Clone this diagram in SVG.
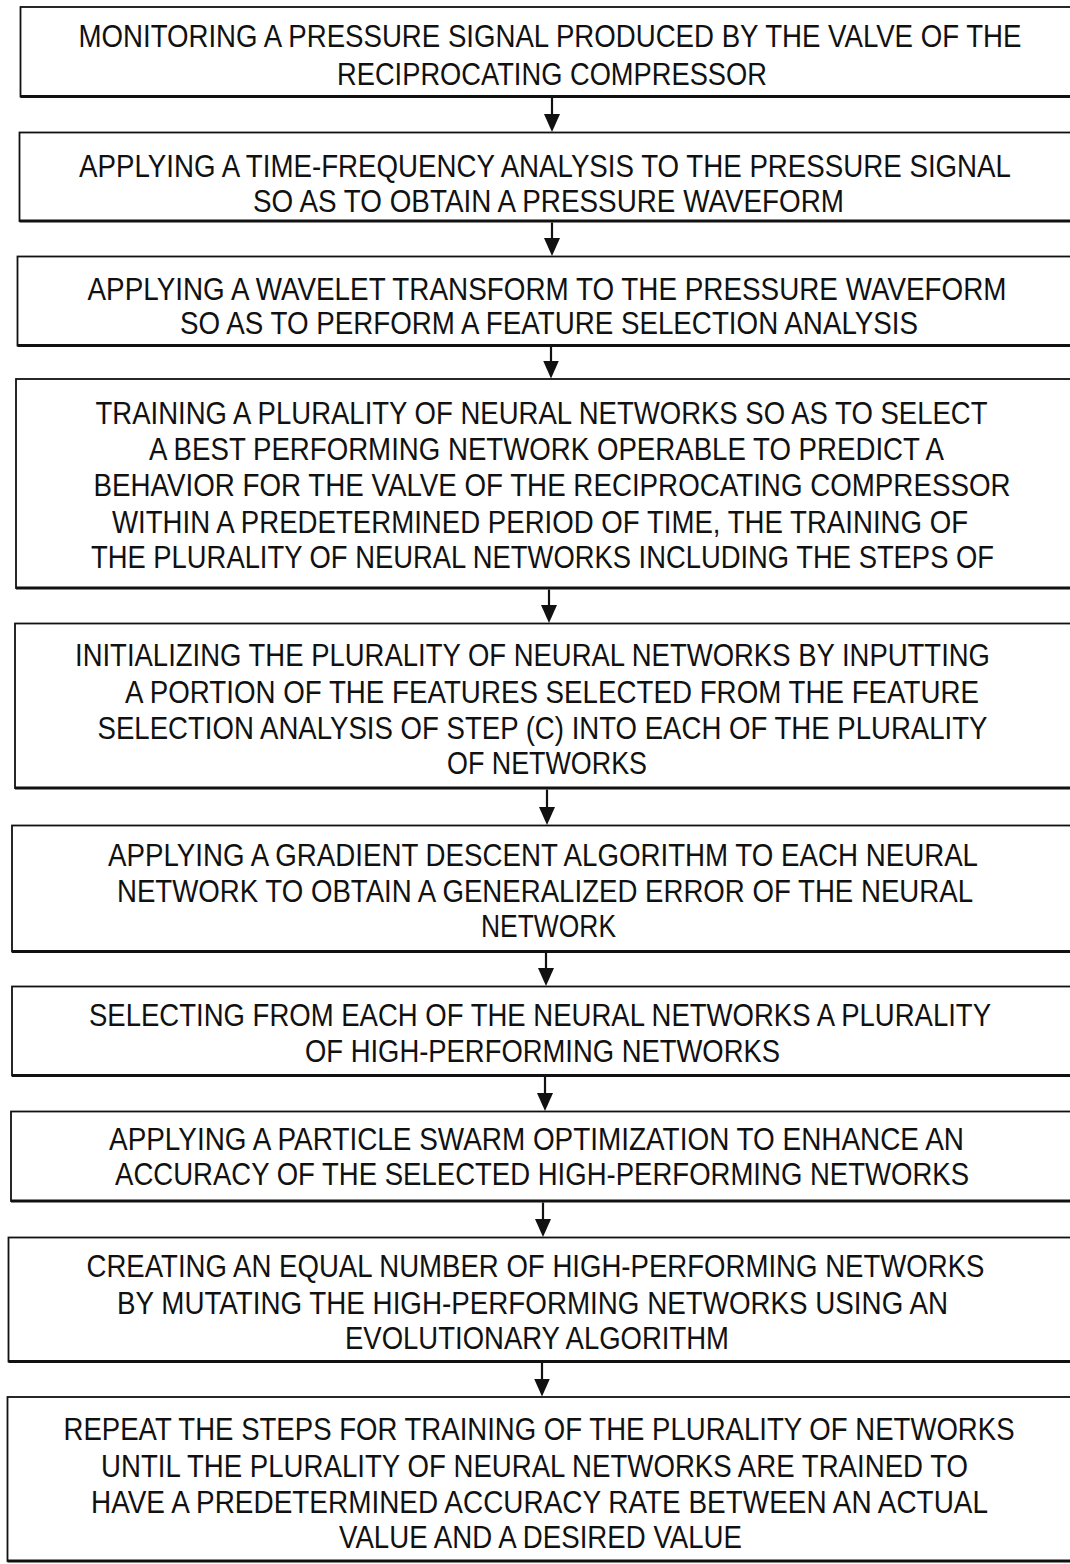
<svg xmlns="http://www.w3.org/2000/svg" width="1070" height="1564" viewBox="0 0 1070 1564">
  <style>
    .box { fill: #ffffff; stroke: #111111; stroke-width: 1.8; }
    .base { stroke: #111111; stroke-width: 3.2; fill: none; }
    .t { font-family: "Liberation Sans", Arial, sans-serif; font-size: 30.5px; fill: #111111; text-anchor: middle; }
    .conn { stroke: #111111; stroke-width: 2.2; fill: none; marker-end: url(#head); }
  </style>
  <defs>
    <!-- filled arrowhead; the shaft stops 4px short of the tip -->
    <marker id="head" markerUnits="userSpaceOnUse" markerWidth="18" markerHeight="16" refX="14" refY="8" orient="auto" viewBox="0 0 18 16">
      <path d="M0,0 L18,8 L0,16 Z" fill="#111111"/>
    </marker>
  </defs>
  <rect width="1070" height="1564" fill="#ffffff"/>

  <!-- process steps; labels use a horizontally condensed sans (scale 0.875) -->
  <g id="step1">
    <rect class="box" x="20.5" y="7" width="1070" height="89.5"/>
    <line class="base" x1="20.5" y1="96.5" x2="1080" y2="96.5"/>
    <text class="t" transform="matrix(0.875 0 0 1 550 0)" x="0" y="47" textLength="1077.7" lengthAdjust="spacingAndGlyphs">MONITORING A PRESSURE SIGNAL PRODUCED BY THE VALVE OF THE</text>
    <text class="t" transform="matrix(0.875 0 0 1 552 0)" x="0" y="85" textLength="491.4" lengthAdjust="spacingAndGlyphs">RECIPROCATING COMPRESSOR</text>
  </g>
  <g id="step2">
    <rect class="box" x="19.5" y="132.5" width="1070" height="88.5"/>
    <line class="base" x1="19.5" y1="221" x2="1080" y2="221"/>
    <text class="t" transform="matrix(0.875 0 0 1 545 0)" x="0" y="177" textLength="1065.1" lengthAdjust="spacingAndGlyphs">APPLYING A TIME-FREQUENCY ANALYSIS TO THE PRESSURE SIGNAL</text>
    <text class="t" transform="matrix(0.875 0 0 1 548.5 0)" x="0" y="212" textLength="675.4" lengthAdjust="spacingAndGlyphs">SO AS TO OBTAIN A PRESSURE WAVEFORM</text>
  </g>
  <g id="step3">
    <rect class="box" x="17.5" y="256.5" width="1070" height="89"/>
    <line class="base" x1="17.5" y1="345.5" x2="1080" y2="345.5"/>
    <text class="t" transform="matrix(0.875 0 0 1 547 0)" x="0" y="300" textLength="1050.3" lengthAdjust="spacingAndGlyphs">APPLYING A WAVELET TRANSFORM TO THE PRESSURE WAVEFORM</text>
    <text class="t" transform="matrix(0.875 0 0 1 549 0)" x="0" y="334" textLength="843.4" lengthAdjust="spacingAndGlyphs">SO AS TO PERFORM A FEATURE SELECTION ANALYSIS</text>
  </g>
  <g id="step4">
    <rect class="box" x="16" y="379" width="1070" height="209"/>
    <line class="base" x1="16" y1="588" x2="1080" y2="588"/>
    <text class="t" transform="matrix(0.875 0 0 1 541.5 0)" x="0" y="424" textLength="1019.4" lengthAdjust="spacingAndGlyphs">TRAINING A PLURALITY OF NEURAL NETWORKS SO AS TO SELECT</text>
    <text class="t" transform="matrix(0.875 0 0 1 546.5 0)" x="0" y="460" textLength="908.6" lengthAdjust="spacingAndGlyphs">A BEST PERFORMING NETWORK OPERABLE TO PREDICT A</text>
    <text class="t" transform="matrix(0.875 0 0 1 552 0)" x="0" y="496" textLength="1048" lengthAdjust="spacingAndGlyphs">BEHAVIOR FOR THE VALVE OF THE RECIPROCATING COMPRESSOR</text>
    <text class="t" transform="matrix(0.875 0 0 1 540 0)" x="0" y="533" textLength="978.3" lengthAdjust="spacingAndGlyphs">WITHIN A PREDETERMINED PERIOD OF TIME, THE TRAINING OF</text>
    <text class="t" transform="matrix(0.875 0 0 1 542.5 0)" x="0" y="568" textLength="1032" lengthAdjust="spacingAndGlyphs">THE PLURALITY OF NEURAL NETWORKS INCLUDING THE STEPS OF</text>
  </g>
  <g id="step5">
    <rect class="box" x="15" y="623.5" width="1070" height="164.5"/>
    <line class="base" x1="15" y1="788" x2="1080" y2="788"/>
    <text class="t" transform="matrix(0.875 0 0 1 532.5 0)" x="0" y="666" textLength="1045.7" lengthAdjust="spacingAndGlyphs">INITIALIZING THE PLURALITY OF NEURAL NETWORKS BY INPUTTING</text>
    <text class="t" transform="matrix(0.875 0 0 1 552 0)" x="0" y="703" textLength="976" lengthAdjust="spacingAndGlyphs">A PORTION OF THE FEATURES SELECTED FROM THE FEATURE</text>
    <text class="t" transform="matrix(0.875 0 0 1 542.5 0)" x="0" y="739" textLength="1017.1" lengthAdjust="spacingAndGlyphs">SELECTION ANALYSIS OF STEP (C) INTO EACH OF THE PLURALITY</text>
    <text class="t" transform="matrix(0.875 0 0 1 547 0)" x="0" y="774" textLength="228.6" lengthAdjust="spacingAndGlyphs">OF NETWORKS</text>
  </g>
  <g id="step6">
    <rect class="box" x="12" y="825.5" width="1070" height="126"/>
    <line class="base" x1="12" y1="951.5" x2="1080" y2="951.5"/>
    <text class="t" transform="matrix(0.875 0 0 1 543 0)" x="0" y="866" textLength="994.3" lengthAdjust="spacingAndGlyphs">APPLYING A GRADIENT DESCENT ALGORITHM TO EACH NEURAL</text>
    <text class="t" transform="matrix(0.875 0 0 1 545 0)" x="0" y="902" textLength="978.3" lengthAdjust="spacingAndGlyphs">NETWORK TO OBTAIN A GENERALIZED ERROR OF THE NEURAL</text>
    <text class="t" transform="matrix(0.875 0 0 1 548.5 0)" x="0" y="937" textLength="154.3" lengthAdjust="spacingAndGlyphs">NETWORK</text>
  </g>
  <g id="step7">
    <rect class="box" x="12" y="986.5" width="1070" height="89"/>
    <line class="base" x1="12" y1="1075.5" x2="1080" y2="1075.5"/>
    <text class="t" transform="matrix(0.875 0 0 1 540 0)" x="0" y="1026" textLength="1030.9" lengthAdjust="spacingAndGlyphs">SELECTING FROM EACH OF THE NEURAL NETWORKS A PLURALITY</text>
    <text class="t" transform="matrix(0.875 0 0 1 542.5 0)" x="0" y="1062" textLength="542.9" lengthAdjust="spacingAndGlyphs">OF HIGH-PERFORMING NETWORKS</text>
  </g>
  <g id="step8">
    <rect class="box" x="11" y="1111.5" width="1070" height="89.5"/>
    <line class="base" x1="11" y1="1201" x2="1080" y2="1201"/>
    <text class="t" transform="matrix(0.875 0 0 1 536.5 0)" x="0" y="1150" textLength="977.1" lengthAdjust="spacingAndGlyphs">APPLYING A PARTICLE SWARM OPTIMIZATION TO ENHANCE AN</text>
    <text class="t" transform="matrix(0.875 0 0 1 542 0)" x="0" y="1185" textLength="976" lengthAdjust="spacingAndGlyphs">ACCURACY OF THE SELECTED HIGH-PERFORMING NETWORKS</text>
  </g>
  <g id="step9">
    <rect class="box" x="8.5" y="1237.5" width="1070" height="124"/>
    <line class="base" x1="8.5" y1="1361.5" x2="1080" y2="1361.5"/>
    <text class="t" transform="matrix(0.875 0 0 1 535.5 0)" x="0" y="1277" textLength="1026.3" lengthAdjust="spacingAndGlyphs">CREATING AN EQUAL NUMBER OF HIGH-PERFORMING NETWORKS</text>
    <text class="t" transform="matrix(0.875 0 0 1 532.5 0)" x="0" y="1314" textLength="949.7" lengthAdjust="spacingAndGlyphs">BY MUTATING THE HIGH-PERFORMING NETWORKS USING AN</text>
    <text class="t" transform="matrix(0.875 0 0 1 537 0)" x="0" y="1349" textLength="438.9" lengthAdjust="spacingAndGlyphs">EVOLUTIONARY ALGORITHM</text>
  </g>
  <g id="step10">
    <rect class="box" x="7.5" y="1397" width="1070" height="164"/>
    <line class="base" x1="7.5" y1="1561" x2="1080" y2="1561"/>
    <text class="t" transform="matrix(0.875 0 0 1 539 0)" x="0" y="1440" textLength="1086.9" lengthAdjust="spacingAndGlyphs">REPEAT THE STEPS FOR TRAINING OF THE PLURALITY OF NETWORKS</text>
    <text class="t" transform="matrix(0.875 0 0 1 534.5 0)" x="0" y="1477" textLength="990.9" lengthAdjust="spacingAndGlyphs">UNTIL THE PLURALITY OF NEURAL NETWORKS ARE TRAINED TO</text>
    <text class="t" transform="matrix(0.875 0 0 1 539.5 0)" x="0" y="1513" textLength="1025.1" lengthAdjust="spacingAndGlyphs">HAVE A PREDETERMINED ACCURACY RATE BETWEEN AN ACTUAL</text>
    <text class="t" transform="matrix(0.875 0 0 1 540.5 0)" x="0" y="1548" textLength="460.6" lengthAdjust="spacingAndGlyphs">VALUE AND A DESIRED VALUE</text>
  </g>

  <!-- flow arrows between steps -->
  <g id="connectors">
    <line class="conn" x1="552" y1="98" x2="552" y2="128"/>
    <line class="conn" x1="552" y1="222.5" x2="552" y2="252"/>
    <line class="conn" x1="551" y1="347" x2="551" y2="374.5"/>
    <line class="conn" x1="549" y1="589.5" x2="549" y2="619"/>
    <line class="conn" x1="547" y1="789.5" x2="547" y2="821"/>
    <line class="conn" x1="546" y1="953" x2="546" y2="982"/>
    <line class="conn" x1="545" y1="1077" x2="545" y2="1107"/>
    <line class="conn" x1="543" y1="1202.5" x2="543" y2="1233"/>
    <line class="conn" x1="542" y1="1363" x2="542" y2="1392.5"/>
  </g>
</svg>
